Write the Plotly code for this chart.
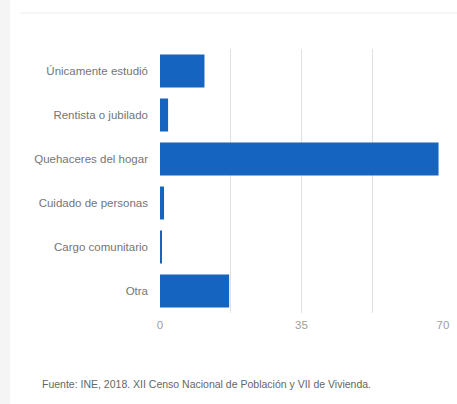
import plotly.graph_objects as go

# Datos: XII Censo Nacional de Población y VII de Vivienda (INE, 2018)
categorias = [
    'Únicamente estudió',
    'Rentista o jubilado',
    'Quehaceres del hogar',
    'Cuidado de personas',
    'Cargo comunitario',
    'Otra',
]
porcentajes = [11.0, 2.0, 68.9, 1.0, 0.3, 17.1]

tick_vals = [0, 17.5, 35, 52.5, 70]
tick_text = ['0', '', '35', '', '70']

fuente = 'Fuente: INE, 2018. XII Censo Nacional de Población y VII de Vivienda.'

W, H = 457, 404
L, R, T, B = 160, 14, 49, 91
pw, ph = W - L - R, H - T - B


def px_x(p):
    return (p - L) / pw


def px_y(p):
    return (H - B - p) / ph


fig = go.Figure()
fig.add_trace(go.Bar(
    x=porcentajes,
    y=categorias,
    orientation='h',
    marker=dict(color='#1565c0', line=dict(width=0)),
    hoverinfo='x+y',
))

fig.update_layout(
    width=W, height=H,
    margin=dict(l=L, r=R, t=T, b=B, pad=0, autoexpand=False),
    paper_bgcolor='white',
    plot_bgcolor='white',
    font=dict(family='Liberation Sans, Arial, sans-serif', color='#757575'),
    bargap=0.25,
    showlegend=False,
    xaxis=dict(
        range=[0, 70],
        tickvals=tick_vals,
        ticktext=tick_text,
        showgrid=True,
        gridcolor='#e0e0e0',
        gridwidth=1,
        zeroline=False,
        showline=False,
        ticks='',
        automargin=False,
        ticklabelstandoff=3,
        tickfont=dict(size=11.5, color='#9e9e9e'),
        fixedrange=True,
    ),
    yaxis=dict(
        categoryorder='array',
        categoryarray=categorias[::-1],
        showgrid=False,
        zeroline=False,
        showline=False,
        ticks='',
        automargin=False,
        ticklabelstandoff=11,
        tickfont=dict(size=11.5, color='#757575'),
        fixedrange=True,
    ),
    shapes=[
        # franja gris de la izquierda
        dict(type='rect', xref='paper', yref='paper',
             x0=px_x(0), x1=px_x(10), y0=px_y(H), y1=px_y(0),
             fillcolor='#f5f5f5', line=dict(width=0), layer='below'),
        # línea superior
        dict(type='line', xref='paper', yref='paper',
             x0=px_x(20), x1=px_x(W), y0=px_y(13), y1=px_y(13),
             line=dict(color='#eeeeee', width=1)),
    ],
    annotations=[
        dict(text=fuente, xref='paper', yref='paper',
             x=px_x(40), y=px_y(384), xanchor='left', yanchor='middle',
             showarrow=False, font=dict(size=10.5, color='#666666')),
    ],
)

# quitar el margen por defecto del <body> para que la figura empiece en (0, 0)
fig.write_html('out.html', config={'displayModeBar': False},
               post_script="document.body.style.margin='0';")
